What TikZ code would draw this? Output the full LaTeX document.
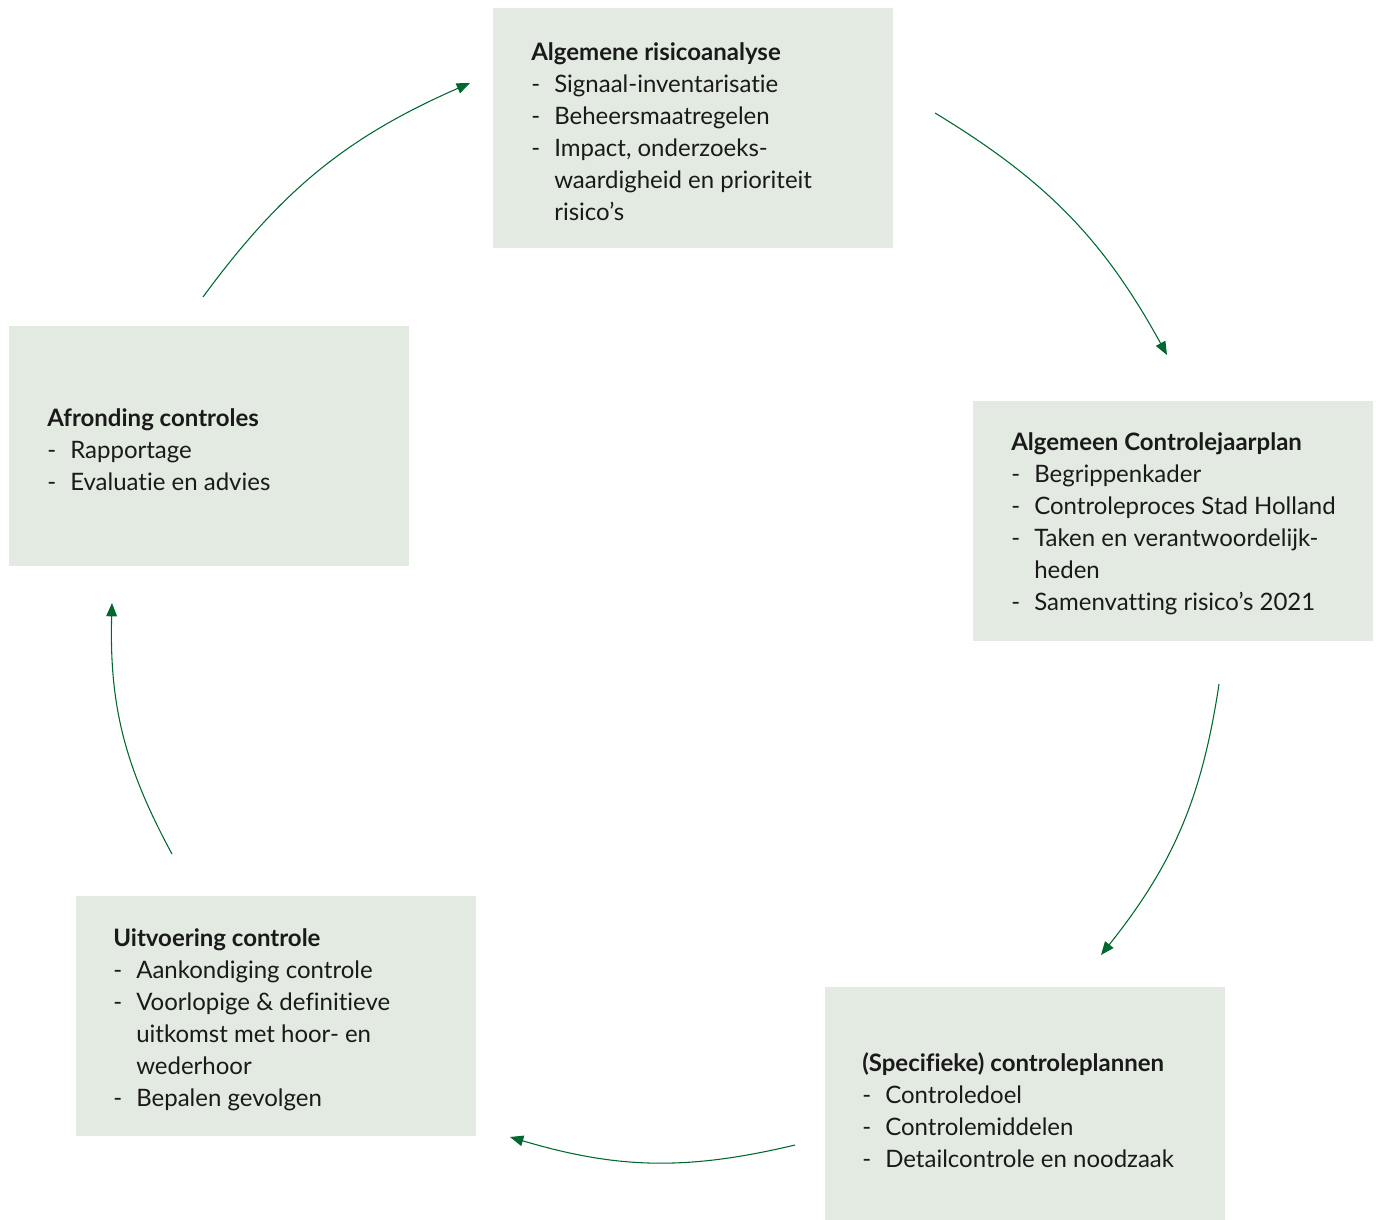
\documentclass[tikz,border=0pt]{standalone}
\usepackage{fontspec}
\setmainfont[RawFeature=-liga]{Lato}
\usetikzlibrary{arrows.meta}
\definecolor{boxfill}{HTML}{E3EAE2}
\definecolor{arrowgreen}{RGB}{0,104,46}
\definecolor{txt}{HTML}{1A1A1A}
\newcommand\dsh{\makebox[17.25pt][l]{-}}
\newcommand\cnt{\hspace*{17.25pt}}
\tikzset{
  stagebox/.style={fill=boxfill, draw=none, anchor=north west,
    minimum width=300pt, minimum height=180pt, inner sep=0pt},
  stagetext/.style={anchor=west, align=left, inner sep=0pt, yshift=-2.25pt,
    text=txt, font=\fontsize{18}{24}\selectfont},
  flow/.style={draw=arrowgreen, line width=0.8pt, -{Triangle[length=10pt,width=8pt]}, bend left=15}
}
\begin{document}
\begin{tikzpicture}[x=0.75pt,y=-0.75pt]
\useasboundingbox (0,0) rectangle (1378,1220);
\clip (0,0) rectangle (1378,1220);
\node[stagebox] (ra) at (493,8) {};
\node[stagebox] (jp) at (973,401) {};
\node[stagebox] (cp) at (825,987) {};
\node[stagebox] (uc) at (76,896) {};
\node[stagebox] (ac) at (9,326) {};
\node[stagetext] (rat) at ([xshift=28.5pt]ra.west) {\textbf{Algemene risicoanalyse}\\
\dsh Signaal-inventarisatie\\
\dsh Beheersmaatregelen\\
\dsh Impact, onderzoeks-\\
\cnt waardigheid en prioriteit\\
\cnt risico’s};
\node[stagetext] (jpt) at ([xshift=28.5pt]jp.west) {\textbf{Algemeen Controlejaarplan}\\
\dsh Begrippenkader\\
\dsh Controleproces Stad Holland\\
\dsh Taken en verantwoordelijk-\\
\cnt heden\\
\dsh Samenvatting risico’s 2021};
\node[stagetext] (cpt) at ([xshift=27.75pt]cp.west) {\textbf{(Specifieke) controleplannen}\\
\dsh Controledoel\\
\dsh Controlemiddelen\\
\dsh Detailcontrole en noodzaak};
\node[stagetext] (uct) at ([xshift=27.75pt]uc.west) {\textbf{Uitvoering controle}\\
\dsh Aankondiging controle\\
\dsh Voorlopige \& definitieve\\
\cnt uitkomst met hoor- en\\
\cnt wederhoor\\
\dsh Bepalen gevolgen};
\node[stagetext] (act) at ([xshift=28.5pt]ac.west) {\textbf{Afronding controles}\\
\dsh Rapportage\\
\dsh Evaluatie en advies};
% arrow end points
\coordinate (a1s) at (203,297); \coordinate (a1e) at (470,83);
\coordinate (a2s) at (935,113); \coordinate (a2e) at (1167,355);
\coordinate (a3s) at (1219,684); \coordinate (a3e) at (1101,955);
\coordinate (a4s) at (795,1145); \coordinate (a4e) at (510,1137);
\coordinate (a5s) at (172,854); \coordinate (a5e) at (112,603);
\draw[flow] (a1s) to (a1e);
\draw[flow] (a2s) to (a2e);
\draw[flow] (a3s) to (a3e);
\draw[flow] (a4s) to (a4e);
\draw[flow] (a5s) to (a5e);
\end{tikzpicture}
\end{document}
